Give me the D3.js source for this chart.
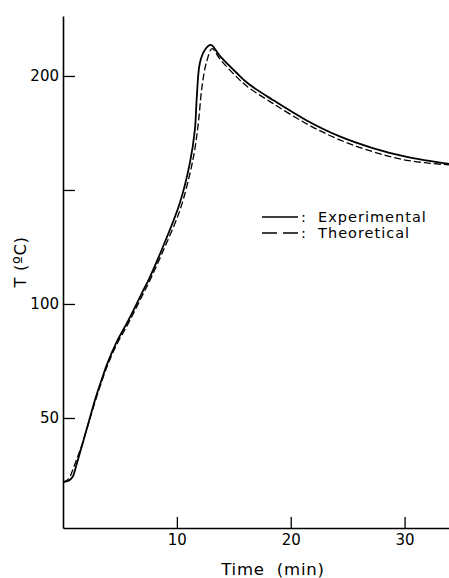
<!DOCTYPE html>
<html><head><meta charset="utf-8">
<script src="https://cdn.jsdelivr.net/npm/d3@7"></script>
<style>body{margin:0;background:#fff}svg{display:block}text{font-family:"DejaVu Sans",sans-serif;fill:#000}</style>
</head><body>
<script>
// Experimental series (time in min, temperature in °C)
const expTime = [0,0.5,0.85,1.1,1.35,1.75,2.19,2.81,3.42,3.95,4.74,5.61,6.32,6.93,7.6,8.77,10.26,11.14,11.58,11.75,12.02,12.46,12.98,13.77,15.26,16.23,18.42,21.4,24.3,27.2,30.2,33.9];
const expTemp = [21.9,22.5,24.2,28,32.3,39.3,47,57.9,67.2,74.6,83.6,91.6,98.5,104.8,111.5,125,144.3,161.8,176.3,190.8,205.7,211.4,213.6,208.8,201.3,196.8,189.5,180.5,173.5,168.4,164.5,161.4];
// Theoretical series
const thTime = [0,0.5,0.8,1.1,1.4,1.75,2.19,2.81,3.42,3.95,4.74,5.61,6.32,6.93,7.6,8.77,10.26,11.14,11.58,11.9,12.2,12.6,13.1,13.77,15.26,16.23,18.42,21.4,24.3,27.2,30.2,33.9];
const thTemp = [21.9,23.3,26.5,30.5,34.5,39.5,46.8,57,66.3,73.6,82.5,90.3,97.2,103.3,110,123,141,157,168,180,195,206,212,207.5,199.5,195.2,188,179,172,166.8,163,161];
const xTicks = [10,20,30];
const yTicks = [50,100,150,200];
const yTickLabels = ["50","100","","200"];
const xTitle = "Time  (min)";
const yTitle = "T (ºC)";
const legendLabels = [": Experimental", ": Theoretical"];

const W = 449, H = 578;
const svg = d3.select("body").append("svg").attr("width", W).attr("height", H);
const x = d3.scaleLinear().domain([0, 33.9]).range([63, 449]);
const y = d3.scaleLinear().domain([1.75, 226.3]).range([528, 16]);

// axes
const xAxis = d3.axisBottom(x).tickValues(xTicks).tickSizeInner(-11).tickSizeOuter(0).tickPadding(6);
const gx = svg.append("g").attr("transform", `translate(0,${y(1.75)})`).call(xAxis);
gx.select(".domain").attr("stroke-width", 1.6);
gx.selectAll(".tick line").attr("stroke-width", 1.3);
gx.selectAll(".tick text").attr("font-size", 15).attr("font-family", "DejaVu Sans");

const yAxis = d3.axisLeft(y).tickValues(yTicks).tickSizeInner(-12).tickSizeOuter(0).tickPadding(4)
  .tickFormat((d, i) => yTickLabels[i]);
const gy = svg.append("g").attr("transform", `translate(${x(0)},0)`).call(yAxis);
gy.select(".domain").attr("stroke-width", 1.6);
gy.selectAll(".tick line").attr("stroke-width", 1.3);
gy.selectAll(".tick text").attr("font-size", 15).attr("font-family", "DejaVu Sans");

// titles
svg.append("text").attr("x", 273).attr("y", 575).attr("text-anchor", "middle")
  .attr("font-size", 16.5).attr("letter-spacing", 0.8).style("white-space", "pre").text(xTitle);
svg.append("text").attr("transform", "translate(26,262) rotate(-90)").attr("text-anchor", "middle")
  .attr("font-size", 16.5).attr("letter-spacing", 0.6).style("white-space", "pre").text(yTitle);

// lines
const line = d3.line().x(d => x(d[0])).y(d => y(d[1])).curve(d3.curveCatmullRom.alpha(0.5));
const expData = expTime.map((t, i) => [t, expTemp[i]]);
const thData = thTime.map((t, i) => [t, thTemp[i]]);
svg.append("path").datum(thData).attr("d", line).attr("fill", "none").attr("stroke", "#000")
  .attr("stroke-width", 1.3).attr("stroke-dasharray", "7,3");
svg.append("path").datum(expData).attr("d", line).attr("fill", "none").attr("stroke", "#000")
  .attr("stroke-width", 1.8);

// legend
const lg = svg.append("g");
lg.append("line").attr("x1", 262).attr("x2", 298).attr("y1", 217).attr("y2", 217)
  .attr("stroke", "#000").attr("stroke-width", 1.3);
lg.append("line").attr("x1", 262).attr("x2", 298).attr("y1", 233).attr("y2", 233)
  .attr("stroke", "#000").attr("stroke-width", 1.3).attr("stroke-dasharray", "15,6");
lg.selectAll("text.lab").data(legendLabels).enter().append("text").attr("class", "lab")
  .attr("x", 301).attr("y", (d, i) => 222 + i * 16).attr("font-size", 14.5).attr("letter-spacing", 1)
  .style("white-space", "pre").text(d => d.replace(": ", ":  "));
</script>
</body></html>
